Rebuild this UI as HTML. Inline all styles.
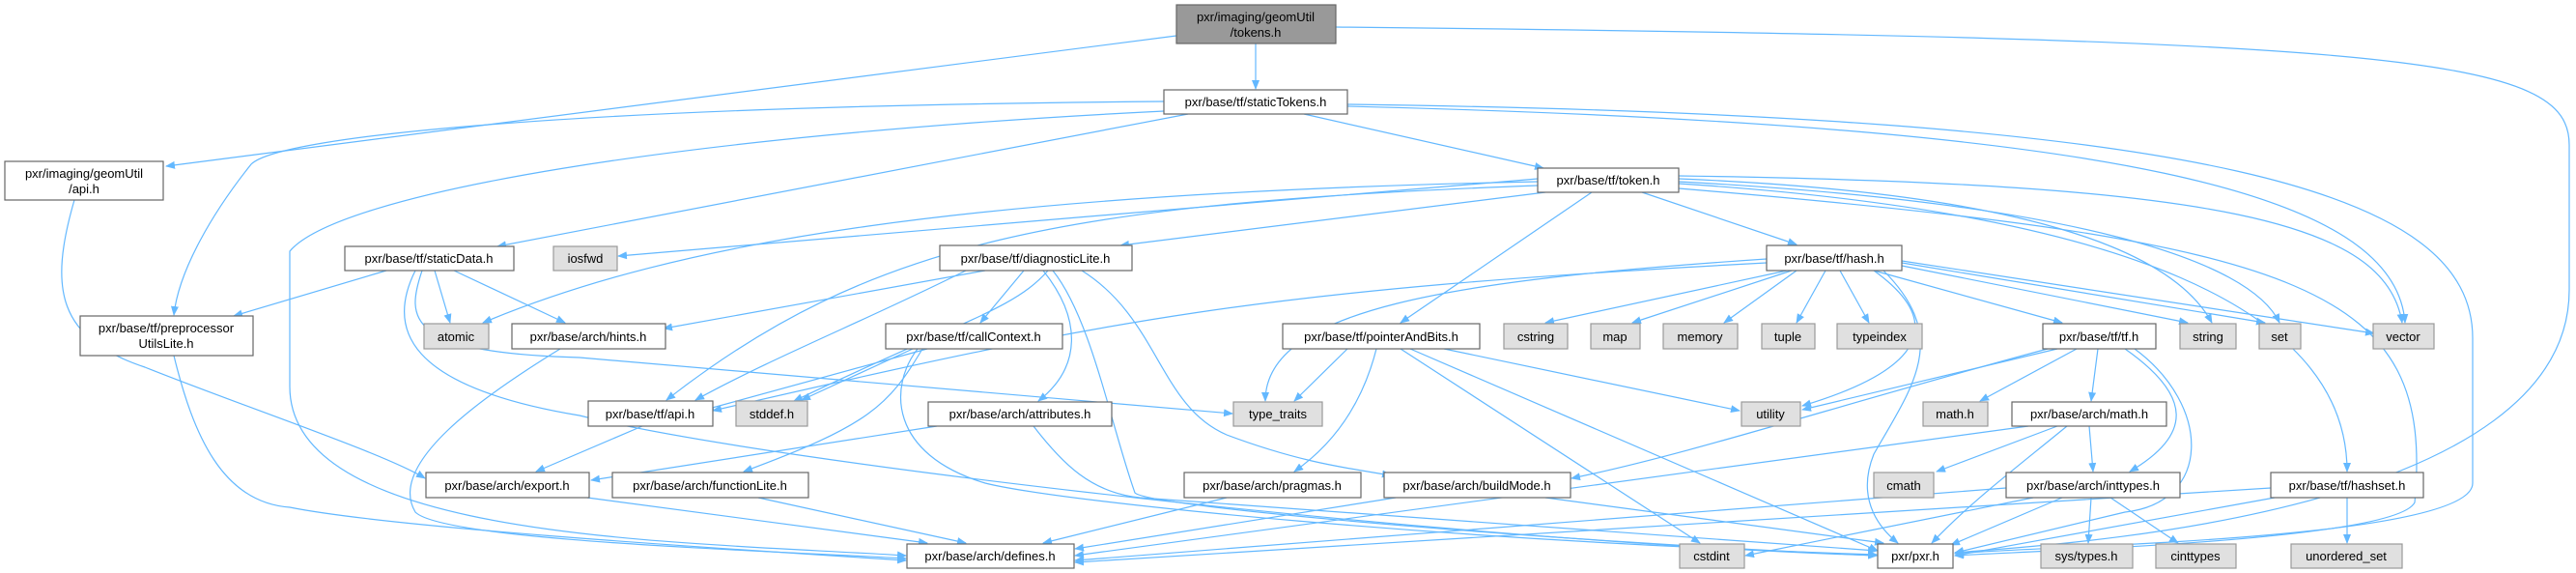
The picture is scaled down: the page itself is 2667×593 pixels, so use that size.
<!DOCTYPE html>
<html><head><meta charset="utf-8"><style>
html,body{margin:0;padding:0;background:#fff;}
svg{display:block;}
text{font-family:"Liberation Sans",sans-serif;font-size:13px;fill:#000;}
.e{fill:none;stroke:#63b8ff;stroke-width:1.2;}
.n{fill:#fff;stroke:#666;stroke-width:1.2;}
.g{fill:#e0e0e0;stroke:#999;stroke-width:1.2;}
</style></head><body>
<svg width="2667" height="593" viewBox="0 0 2667 593" xmlns="http://www.w3.org/2000/svg">
<defs><marker id="a" markerWidth="10" markerHeight="8" refX="9" refY="4" orient="auto" markerUnits="userSpaceOnUse"><path d="M0,0 L10,4 L0,8 z" fill="#63b8ff"/></marker></defs>
<g class="e" marker-end="url(#a)">
<path d="M1300,45 L1300,92"/>
<path d="M1218,37 L172,172"/>
<path d="M1383,28 C2500,40 2660,60 2660,150 L2660,300 C2660,540 2100,565 2024,572"/>
<path d="M1350,118 L1598,174"/>
<path d="M1205,105 C600,110 290,140 260,170 C220,220 185,280 180,326"/>
<path d="M1205,115 C700,140 350,200 300,260 L300,400 C300,560 700,560 938,575"/>
<path d="M1230,118 L515,255"/>
<path d="M1395,110 C2200,130 2480,200 2490,334"/>
<path d="M1395,108 C2300,120 2560,200 2560,350 L2560,500 C2560,560 2100,565 2024,573"/>
<path d="M77,207 C50,300 60,350 150,380 C250,420 400,470 440,495"/>
<path d="M400,280 L242,327"/>
<path d="M450,280 L466,334"/>
<path d="M470,280 L585,334"/>
<path d="M437,280 C420,330 420,365 600,370 L1276,428"/>
<path d="M430,280 C400,340 420,400 600,430 C800,480 1500,560 1943,575"/>
<path d="M1592,185 L640,265"/>
<path d="M1592,188 C1000,200 700,250 500,334"/>
<path d="M1592,192 C1100,210 900,250 690,414"/>
<path d="M1600,199 L1160,254"/>
<path d="M1700,199 L1860,253"/>
<path d="M1648,199 L1450,334"/>
<path d="M1738,185 C2100,200 2250,260 2290,334"/>
<path d="M1738,188 C2150,210 2330,270 2360,334"/>
<path d="M1738,182 C2300,190 2470,230 2487,334"/>
<path d="M1738,190 C2200,220 2430,320 2430,488"/>
<path d="M1738,195 C2400,250 2520,300 2500,520 C2480,560 2100,570 2024,575"/>
<path d="M1060,280 L1015,334"/>
<path d="M1080,280 C1120,330 1120,380 1075,415"/>
<path d="M1000,280 C900,330 800,370 720,414"/>
<path d="M1020,280 L687,340"/>
<path d="M1085,280 C1050,320 1000,330 822,415"/>
<path d="M1120,280 C1200,330 1200,420 1270,450 C1350,480 1400,485 1440,492"/>
<path d="M1090,280 C1130,330 1150,440 1175,510 C1190,525 1600,560 1943,575"/>
<path d="M960,361 L730,424"/>
<path d="M945,361 L830,414"/>
<path d="M955,361 C920,420 900,440 770,488"/>
<path d="M950,361 C920,400 920,470 1020,500 C1100,520 1500,560 1943,574"/>
<path d="M1829,272 C1300,300 1150,330 738,425"/>
<path d="M1829,268 C1500,290 1310,320 1310,415"/>
<path d="M1850,280 L1600,334"/>
<path d="M1855,280 L1690,334"/>
<path d="M1860,280 L1785,334"/>
<path d="M1890,280 L1860,334"/>
<path d="M1905,280 L1935,334"/>
<path d="M1940,280 L2135,334"/>
<path d="M1969,275 L2265,334"/>
<path d="M1969,272 L2345,334"/>
<path d="M1969,270 L2458,345"/>
<path d="M1940,280 C2010,330 2000,380 1866,420"/>
<path d="M1950,280 C2020,350 1980,400 1940,470 C1920,520 1950,550 1965,562"/>
<path d="M1395,361 L1340,415"/>
<path d="M1425,361 C1410,420 1380,460 1340,488"/>
<path d="M1495,361 L1801,425"/>
<path d="M1450,361 L1760,562"/>
<path d="M1460,361 L1944,570"/>
<path d="M2130,361 L1866,424"/>
<path d="M2150,361 L2050,415"/>
<path d="M2172,361 L2165,415"/>
<path d="M2200,361 C2270,410 2270,450 2205,488"/>
<path d="M2120,361 C1900,420 1750,470 1627,495"/>
<path d="M2210,361 C2290,420 2290,520 2200,530 L2024,572"/>
<path d="M2130,441 L2005,488"/>
<path d="M2163,441 L2167,488"/>
<path d="M2140,441 C2080,490 2040,520 2000,562"/>
<path d="M2100,441 L1113,575"/>
<path d="M2165,515 L2162,562"/>
<path d="M2185,515 L2255,562"/>
<path d="M2105,515 L1807,575"/>
<path d="M2135,515 L2020,564"/>
<path d="M2077,505 L1113,580"/>
<path d="M2430,515 L2430,562"/>
<path d="M2355,515 L2024,575"/>
<path d="M2351,505 L1113,582"/>
<path d="M665,441 L555,488"/>
<path d="M580,361 C500,410 400,480 430,530 C460,560 800,570 938,578"/>
<path d="M608,515 L960,562"/>
<path d="M785,515 L1000,562"/>
<path d="M970,441 L612,497"/>
<path d="M1070,441 C1100,480 1130,510 1180,515 L1943,570"/>
<path d="M1270,515 L1080,562"/>
<path d="M1445,515 L1113,568"/>
<path d="M1600,515 L1950,562"/>
<path d="M180,368 C200,450 230,520 300,525 C400,545 700,565 938,580"/>
</g>
<g>
<rect x="1218" y="5" width="165" height="40" fill="#999" stroke="#666" stroke-width="1.2"/>
<text x="1300" y="22" text-anchor="middle">pxr/imaging/geomUtil</text><text x="1300" y="38" text-anchor="middle">/tokens.h</text>
<rect class="n" x="1205" y="93" width="190" height="25"/><text x="1300" y="110" text-anchor="middle">pxr/base/tf/staticTokens.h</text>
<rect class="n" x="5" y="167" width="164" height="40"/><text x="87" y="184" text-anchor="middle">pxr/imaging/geomUtil</text><text x="87" y="200" text-anchor="middle">/api.h</text>
<rect class="n" x="1592" y="174" width="146" height="25"/><text x="1665" y="191" text-anchor="middle">pxr/base/tf/token.h</text>
<rect class="n" x="357" y="255" width="175" height="25"/><text x="444" y="272" text-anchor="middle">pxr/base/tf/staticData.h</text>
<rect class="g" x="573" y="255" width="66" height="25"/><text x="606" y="272" text-anchor="middle">iosfwd</text>
<rect class="n" x="973" y="254" width="199" height="26"/><text x="1072" y="272" text-anchor="middle">pxr/base/tf/diagnosticLite.h</text>
<rect class="n" x="1829" y="254" width="140" height="26"/><text x="1899" y="272" text-anchor="middle">pxr/base/tf/hash.h</text>
<rect class="n" x="83" y="327" width="179" height="41"/><text x="172" y="344" text-anchor="middle">pxr/base/tf/preprocessor</text><text x="172" y="360" text-anchor="middle">UtilsLite.h</text>
<rect class="g" x="439" y="335" width="67" height="26"/><text x="472" y="353" text-anchor="middle">atomic</text>
<rect class="n" x="530" y="335" width="159" height="26"/><text x="609" y="353" text-anchor="middle">pxr/base/arch/hints.h</text>
<rect class="n" x="917" y="335" width="183" height="26"/><text x="1008" y="353" text-anchor="middle">pxr/base/tf/callContext.h</text>
<rect class="n" x="1328" y="335" width="204" height="26"/><text x="1430" y="353" text-anchor="middle">pxr/base/tf/pointerAndBits.h</text>
<rect class="g" x="1557" y="335" width="66" height="26"/><text x="1590" y="353" text-anchor="middle">cstring</text>
<rect class="g" x="1647" y="335" width="51" height="26"/><text x="1672" y="353" text-anchor="middle">map</text>
<rect class="g" x="1722" y="335" width="77" height="26"/><text x="1760" y="353" text-anchor="middle">memory</text>
<rect class="g" x="1824" y="335" width="55" height="26"/><text x="1851" y="353" text-anchor="middle">tuple</text>
<rect class="g" x="1902" y="335" width="88" height="26"/><text x="1946" y="353" text-anchor="middle">typeindex</text>
<rect class="n" x="2115" y="335" width="117" height="26"/><text x="2173" y="353" text-anchor="middle">pxr/base/tf/tf.h</text>
<rect class="g" x="2257" y="335" width="58" height="26"/><text x="2286" y="353" text-anchor="middle">string</text>
<rect class="g" x="2339" y="335" width="43" height="26"/><text x="2360" y="353" text-anchor="middle">set</text>
<rect class="g" x="2457" y="335" width="63" height="26"/><text x="2488" y="353" text-anchor="middle">vector</text>
<rect class="n" x="609" y="415" width="129" height="26"/><text x="673" y="433" text-anchor="middle">pxr/base/tf/api.h</text>
<rect class="g" x="762" y="415" width="74" height="26"/><text x="799" y="433" text-anchor="middle">stddef.h</text>
<rect class="n" x="961" y="416" width="190" height="25"/><text x="1056" y="433" text-anchor="middle">pxr/base/arch/attributes.h</text>
<rect class="g" x="1277" y="416" width="92" height="25"/><text x="1323" y="433" text-anchor="middle">type_traits</text>
<rect class="g" x="1803" y="416" width="61" height="25"/><text x="1833" y="433" text-anchor="middle">utility</text>
<rect class="g" x="1991" y="416" width="67" height="25"/><text x="2024" y="433" text-anchor="middle">math.h</text>
<rect class="n" x="2083" y="416" width="160" height="25"/><text x="2163" y="433" text-anchor="middle">pxr/base/arch/math.h</text>
<rect class="n" x="441" y="489" width="169" height="26"/><text x="525" y="507" text-anchor="middle">pxr/base/arch/export.h</text>
<rect class="n" x="634" y="489" width="203" height="26"/><text x="735" y="507" text-anchor="middle">pxr/base/arch/functionLite.h</text>
<rect class="n" x="1226" y="489" width="183" height="26"/><text x="1317" y="507" text-anchor="middle">pxr/base/arch/pragmas.h</text>
<rect class="n" x="1433" y="489" width="193" height="26"/><text x="1529" y="507" text-anchor="middle">pxr/base/arch/buildMode.h</text>
<rect class="g" x="1940" y="489" width="62" height="26"/><text x="1971" y="507" text-anchor="middle">cmath</text>
<rect class="n" x="2077" y="489" width="180" height="26"/><text x="2167" y="507" text-anchor="middle">pxr/base/arch/inttypes.h</text>
<rect class="n" x="2351" y="489" width="158" height="26"/><text x="2430" y="507" text-anchor="middle">pxr/base/tf/hashset.h</text>
<rect class="n" x="939" y="563" width="173" height="25"/><text x="1025" y="580" text-anchor="middle">pxr/base/arch/defines.h</text>
<rect class="g" x="1739" y="563" width="67" height="25"/><text x="1772" y="580" text-anchor="middle">cstdint</text>
<rect class="n" x="1944" y="563" width="78" height="25"/><text x="1983" y="580" text-anchor="middle">pxr/pxr.h</text>
<rect class="g" x="2113" y="563" width="95" height="25"/><text x="2160" y="580" text-anchor="middle">sys/types.h</text>
<rect class="g" x="2232" y="563" width="83" height="25"/><text x="2273" y="580" text-anchor="middle">cinttypes</text>
<rect class="g" x="2372" y="563" width="115" height="25"/><text x="2429" y="580" text-anchor="middle">unordered_set</text>
</g>
</svg>
</body></html>
